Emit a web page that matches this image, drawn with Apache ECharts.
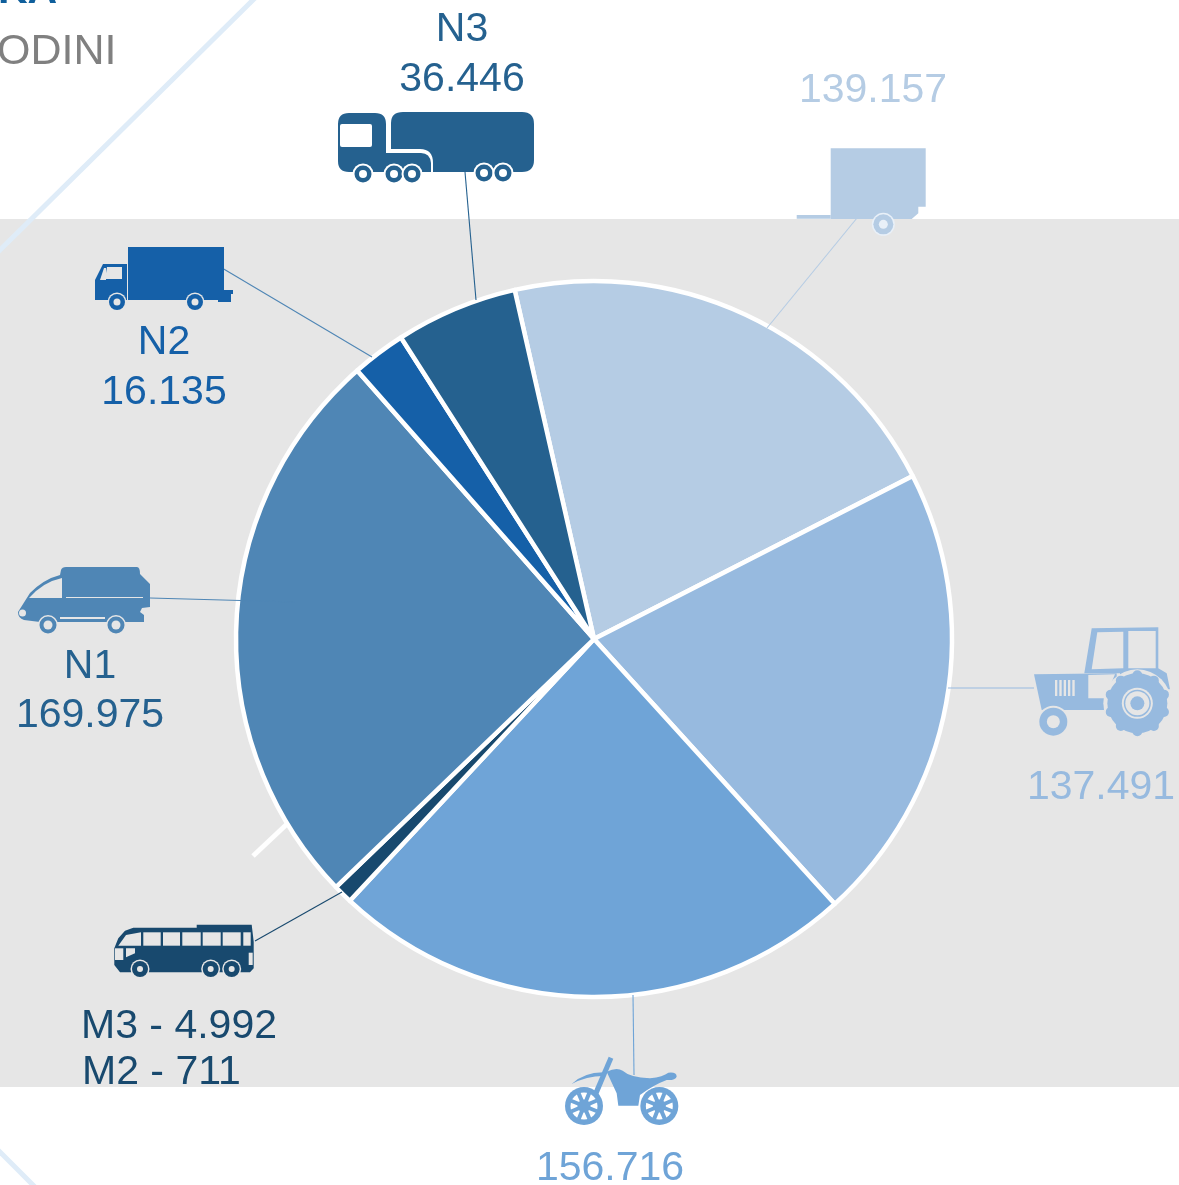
<!DOCTYPE html>
<html><head><meta charset="utf-8">
<style>html,body{margin:0;padding:0;background:#fff}#c{width:1179px;height:1185px}</style>
<script src="https://cdn.jsdelivr.net/npm/echarts@6/dist/echarts.min.js"></script>
</head><body><div id="c"></div>
<script>
const categories = ['Trailer','Tractor','Moto','M3','M2','N1','N2','N3'];
const values = [139157,137491,156716,4992,711,169975,16135,36446];
const colors = ['#b5cce4','#97badf','#6fa4d7','#18496e','#18496e','#4f86b5','#1560a8','#25618f'];
const BG = '#e6e6e6', WH = '#ffffff';
const fmt = v => String(v).replace(/\B(?=(\d{3})+$)/g,'.');
const val = n => fmt(values[categories.indexOf(n)]);
const FONT = '"Liberation Sans", Arial, sans-serif';

// M3 and M2 share one wedge in the picture
const pieData = [];
categories.forEach((n,i)=>{
  if(n==='M2'){ pieData[pieData.length-1].value += values[i]; pieData[pieData.length-1].name='M3+M2'; return; }
  pieData.push({name:n,value:values[i],itemStyle:{color:colors[i]}});
});

const circ = (cx,cy,r)=>`M${cx-r} ${cy}A${r} ${r} 0 1 1 ${cx+r} ${cy}A${r} ${r} 0 1 1 ${cx-r} ${cy}Z`;
function wheel(list,cx,cy,r,hole,col,halo,haloBg){
  list.push([circ(cx,cy,halo),haloBg]);
  list.push([circ(cx,cy,r),col]);
  list.push([circ(cx,cy,hole),haloBg]);
}
const icons = [];
// N3 tanker
(function(){const c=colors[7];
 icons.push(['M349 113H375Q386 113 386 124V153H421Q430 153 431 163V172H349Q338 172 338 161V124Q338 113 349 113Z',c]);
 icons.push(['M403 112H522Q534 112 534 124V160Q534 172 522 172H433V163Q433 149 420 149H391V123Q391 112 403 112Z',c]);
 icons.push(['M342 124H370Q372 124 372 126V145Q372 147 370 147H342Q340 147 340 145V126Q340 124 342 124Z',WH]);
 [[363,174],[394,174],[412,174],[484,173],[503,173]].forEach(p=>wheel(icons,p[0],p[1],8.5,4,c,10.5,WH));
})();
// N2 lorry
(function(){const c=colors[6];
 icons.push(['M128 247H224V300H128Z',c]);
 icons.push(['M95 280L103 264H127V300H95Z',c]);
 icons.push(['M218 290H233V294H231V302H218Z',c]);
 icons.push(['M107 267H122V279H105Z',BG]);
 icons.push(['M100 280L104 268H106L106 280Z',BG]);
 [[117,302],[195,302]].forEach(p=>wheel(icons,p[0],p[1],8,3.5,c,9.5,BG));
})();
// N1 van
(function(){const c=colors[5];
 icons.push(['M18 612L30 593Q44 579 60 575L61 570Q62 567 66 567H137Q140 567 140 574L150 584V607L142 608L140 612L144 615V622H40L24 620Q18 618 18 612Z',c]);
 icons.push(['M29 598H62L62 578Q43 582 29 598Z',BG]);
 icons.push(['M66 597H143V598H66Z',BG]);
 icons.push([circ(22.5,613,3.5),BG]);
 icons.push(['M60 617H105V619H60Z',BG]);
 [[48,625],[116,625]].forEach(p=>wheel(icons,p[0],p[1],8.5,4.5,c,10,BG));
})();
// Bus
(function(){const c=colors[3];
 const X=x=>90+x/3,Y=y=>880+y/3;
 const P=a=>'M'+a.map(p=>X(p[0]).toFixed(1)+' '+Y(p[1]).toFixed(1)).join('L')+'Z';
 icons.push([P([[73,205],[85,175],[105,152],[130,143],[320,143],[320,134],[485,134],[491,185],[491,265],[480,277],[90,277],[73,255]]),c]);
 [[160,212],[219,270],[277,332],[338,392],[398,452],[460,482]].forEach(r=>icons.push([P([[r[0],157],[r[1],157],[r[1],197],[r[0],197]]),BG]));
 icons.push([P([[85,197],[108,165],[153,157],[153,197]]),BG]);
 icons.push([P([[75,205],[100,205],[100,240],[75,240]]),BG]);
 icons.push([P([[108,205],[135,205],[135,220],[108,232]]),BG]);
 icons.push([P([[476,218],[488,218],[488,255],[476,255]]),BG]);
 [[150,267],[362,267],[425,267]].forEach(p=>{wheel(icons,X(p[0]),Y(p[1]),8,3,c,9.5,BG);});
})();
// Tractor
(function(){const c=colors[1];
 const X=x=>1020+x/3,Y=y=>610+y/3;
 const P=a=>'M'+a.map(p=>X(p[0]).toFixed(1)+' '+Y(p[1]).toFixed(1)).join('L')+'Z';
 icons.push([P([[193,190],[215,55],[415,52],[415,175],[440,190],[450,238],[300,238],[300,190]]),c]);
 icons.push([P([[42,193],[290,190],[290,300],[65,300]]),c]);
 icons.push([P([[232,67],[310,65],[310,175],[215,178]]),BG]);
 icons.push([P([[325,63],[407,63],[407,175],[325,175]]),BG]);
 icons.push([P([[205,195],[285,193],[255,265],[205,265]]),BG]);
 [105,118,131,144,157].forEach(x=>icons.push([P([[x,210],[x+7,210],[x+7,258],[x,258]]),BG]));
 wheel(icons,X(100),Y(335),14,6.5,c,16,BG);
 icons.push([circ(X(352),Y(280),34),BG]);
 const R=[[0,-1],[.59,-.81],[.95,-.31],[.95,.31],[.59,.81],[0,1],[-.59,.81],[-.95,.31],[-.95,-.31],[-.59,-.81]];
 R.forEach(d=>icons.push([circ(X(352+d[0]*84),Y(280+d[1]*84),5),c]));
 icons.push([circ(X(352),Y(280),30),c]);
 icons.push([circ(X(352),Y(280),15.5),BG]);
 icons.push([circ(X(352),Y(280),13.5),c]);
 icons.push([circ(X(352),Y(280),12),BG]);
 icons.push([circ(X(352),Y(280),7),c]);
})();
// Trailer
(function(){const c=colors[0];
 const X=x=>780+x/3,Y=y=>130+y/3;
 const P=a=>'M'+a.map(p=>X(p[0]).toFixed(1)+' '+Y(p[1]).toFixed(1)).join('L')+'Z';
 icons.push([P([[152,55],[437,55],[437,230],[415,230],[415,250],[395,267],[152,267]]),c]);
 icons.push([P([[50,255],[152,255],[152,266],[50,266]]),c]);
 wheel(icons,X(310),Y(283),10,4.5,c,11.5,'#e9f0f8');
})();
// Moto
(function(){const c=colors[2];
 const X=x=>550+x/3,Y=y=>1040+y/3;
 const P=a=>'M'+a.map(p=>X(p[0]).toFixed(1)+' '+Y(p[1]).toFixed(1)).join('L')+'Z';
 icons.push([`M${X(65)} ${Y(132)}Q${X(100)} ${Y(98)} ${X(160)} ${Y(97)}L${X(160)} ${Y(108)}Q${X(110)} ${Y(108)} ${X(65)} ${Y(132)}Z`,c]);
 icons.push([P([[176,50],[190,56],[142,170],[128,162]]),c]);
 icons.push([`M${X(170)} ${Y(95)}Q${X(200)} ${Y(80)} ${X(218)} ${Y(92)}Q${X(240)} ${Y(112)} ${X(300)} ${Y(115)}Q${X(340)} ${Y(110)} ${X(355)} ${Y(98)}Q${X(380)} ${Y(95)} ${X(380)} ${Y(110)}Q${X(375)} ${Y(122)} ${X(350)} ${Y(120)}Q${X(310)} ${Y(135)} ${X(270)} ${Y(165)}L${X(265)} ${Y(197)}L${X(205)} ${Y(197)}L${X(200)} ${Y(160)}Z`,c]);
 [[102,198],[328,198]].forEach(p=>{
  const cx=X(p[0]),cy=Y(p[1]);
  icons.push([circ(cx,cy,19),c]);
  icons.push([circ(cx,cy,13.5),WH]);
  [22,67,112,157].forEach(a=>{const r=a*Math.PI/180,dx=Math.cos(r)*14,dy=Math.sin(r)*14,nx=-Math.sin(r)*2,ny=Math.cos(r)*2;
    icons.push([`M${cx-dx+nx} ${cy-dy+ny}L${cx+dx+nx} ${cy+dy+ny}L${cx+dx-nx} ${cy+dy-ny}L${cx-dx-nx} ${cy-dy-ny}Z`,c]);});
  icons.push([circ(cx,cy,6.5),c]);
 });
})();

const leaders = [
 [465,172,476,300,colors[7]],
 [222,268,372,357,'#4f86b5'],
 [150,598,295,602,'#4f86b5'],
 [255,941,342,892,colors[3]],
 [948,688,1034,688,colors[1]],
 [633,995,634,1075,colors[2]],
 [857,218,767,328,'#b5cce4']
];

const T=(text,x,y,color,align)=>({type:'text',z:20,style:{text,x,y,fill:color,font:`41px ${FONT}`,align:align||'center',verticalAlign:'middle'}});
const graphics = [
 {type:'rect',z:-5,shape:{x:0,y:219,width:1179,height:868},style:{fill:BG}},
 {type:'line',z:-4,shape:{x1:255,y1:-2,x2:-2,y2:252},style:{stroke:'#dfecf8',lineWidth:5}},
 {type:'line',z:-4,shape:{x1:-2,y1:1150,x2:35,y2:1187},style:{stroke:'#dfecf8',lineWidth:5}},
 {type:'line',z:-4,shape:{x1:253,y1:856,x2:287,y2:824},style:{stroke:'#ffffff',lineWidth:5}},
 {type:'text',z:20,style:{text:'ODINI',x:-3,y:52,fill:'#808080',font:`43px ${FONT}`,align:'left',verticalAlign:'middle'}},
 {type:'text',z:20,style:{text:'KA',x:-2,y:-8,fill:'#0f5f9c',font:`bold 41px ${FONT}`,align:'left',verticalAlign:'middle'}},
 T('N3',462,30,colors[7]), T(val('N3'),462,80,colors[7]),
 T(val('Trailer'),873,91,colors[0]),
 T('N2',164,343,colors[6]), T(val('N2'),164,393,colors[6]),
 T('N1',90,667,colors[7]), T(val('N1'),90,716,colors[7]),
 T('M3 - '+val('M3'),81,1027,colors[3],'left'),
 T('M2 - '+val('M2'),82,1073,colors[3],'left'),
 T(val('Tractor'),1101,788,colors[1]),
 T(val('Moto'),610,1169,colors[2])
];

const chart = echarts.init(document.getElementById('c'),null,{renderer:'canvas'});
chart.setOption({
 animation:false,
 backgroundColor:'#ffffff',
 graphic:graphics,
 series:[
  {type:'pie',z:2,silent:true,center:[594,639],radius:[0,358],startAngle:102.8,clockwise:true,
   label:{show:false},labelLine:{show:false},
   itemStyle:{borderColor:'#ffffff',borderWidth:4.5},
   data:pieData},
  {type:'custom',z:5,silent:true,coordinateSystem:'none',data:[[0]],clip:false,
   renderItem(){
    const children=[];
    leaders.forEach(l=>children.push({type:'line',shape:{x1:l[0],y1:l[1],x2:l[2],y2:l[3]},style:{stroke:l[4],lineWidth:1.1,fill:null}}));
    icons.forEach(p=>children.push({type:'path',shape:{pathData:p[0]},style:{fill:p[1]}}));
    return {type:'group',children};
   }}
 ]
});
</script></body></html>
